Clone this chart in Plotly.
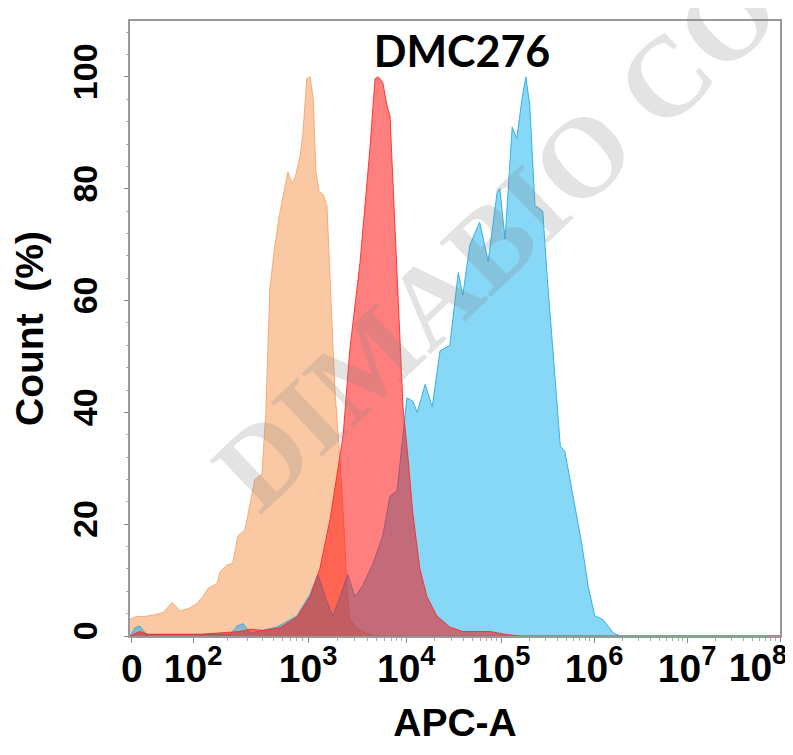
import numpy as np
import plotly.graph_objects as go

# ---------------- data (x in display channels 0..1000, y in % of max) -------------
orange_ch = [0, 11, 23, 38, 51, 65, 77, 92, 103, 112, 120, 134, 138, 149, 158, 166, 177, 185,
             192, 203, 209, 215, 223, 231, 238, 243, 249, 254, 262, 266, 272, 277, 282, 286,
             291, 297, 303, 308, 315, 323, 329, 334, 338, 348, 362, 377, 1000]
orange_pct = [3, 3.5, 3.5, 3.8, 4.2, 6, 4.5, 5, 5.8, 7, 8.5, 9.4, 11.4, 12.7, 13, 17.9, 19, 23.7,
              28, 29, 40, 62, 70, 76, 80, 83, 81, 82, 86, 90, 99.7, 100, 96, 83,
              79.5, 79, 77, 62.7, 44.5, 31.5, 20, 8, 3, 1.5, 0.5, 0, 0]

red_ch = [0, 15, 28, 46, 108, 169, 185, 205, 231, 257, 277, 292, 308, 318, 328, 338, 354, 369,
          377, 382, 389, 395, 400, 405, 412, 420, 428, 435, 446, 457, 472, 492, 512, 531, 554,
          577, 600, 1000]
red_pct = [0, 0.8, 0.3, 0.3, 0.3, 0.8, 1.2, 1, 1.5, 3.4, 7, 12, 21, 28.5, 36, 51, 67, 87,
           99.7, 100, 99, 95, 93, 80, 61, 41, 31.5, 22, 12, 7, 3.6, 1.6, 0.8, 0.8, 0.8,
           0.3, 0, 0]

blue_ch = [0, 8, 15, 25, 154, 165, 174, 185, 226, 257, 277, 289, 300, 312, 323, 335, 346, 358,
           374, 389, 400, 411, 420, 426, 435, 442, 454, 465, 477, 492, 497, 505, 512, 523, 538,
           551, 565, 569, 577, 588, 595, 603, 609, 615, 623, 635, 642, 651, 662, 669, 682, 695,
           705, 715, 728, 743, 754, 1000]
blue_pct = [0, 1.5, 1.8, 0.3, 0.3, 1.8, 2.2, 0.5, 1.6, 3.6, 7.5, 11, 7, 3.6, 7, 11, 7, 9,
            13, 18, 25, 26, 36, 42.6, 42, 40, 45, 41, 51, 52, 57, 65, 61, 70, 74,
            67, 79.5, 80, 71, 91, 89, 96, 100, 95, 77, 76, 64, 51, 34, 33, 25, 16.5,
            8.8, 3.6, 2.9, 0.6, 0, 0]

tick_ch = [3, 97, 274, 425, 571, 714, 857]
tick_text = ["0", "10<sup>2</sup>", "10<sup>3</sup>", "10<sup>4</sup>", "10<sup>5</sup>",
             "10<sup>6</sup>", "10<sup>7</sup>"]
end_tick_ch = [1000]
end_tick_text = ["10<sup>8</sup>"]
y_ticks = [0, 20, 40, 60, 80, 100]

# minor ticks inside each decade (2..9 x 10^n)
major_decades = tick_ch[1:] + end_tick_ch
minor_ch = []
for a, b in zip(major_decades[:-1], major_decades[1:]):
    for k in range(2, 10):
        minor_ch.append(a + np.log10(k) * (b - a))

# the page body adds an 8px offset, so the figure is 8px smaller than the window
W, H = 785, 747
L, T, R, B = 122, 13, 13, 119
PW, PH = W - L - R, H - T - B

fig = go.Figure()
series = [
    ("orange", orange_ch, orange_pct, "rgba(245,135,50,0.45)", "rgba(245,165,110,0.9)"),
    ("blue", blue_ch, blue_pct, "rgba(0,170,235,0.47)", "rgba(40,170,225,0.9)"),
    ("red", red_ch, red_pct, "rgba(255,0,0,0.5)", "rgba(255,40,40,0.9)"),
]
for name, xs, ys, fc, lc in series:
    fig.add_trace(go.Scatter(x=xs, y=ys, mode="lines", fill="tozeroy", fillcolor=fc,
                             line=dict(color=lc, width=1), name=name, showlegend=False))

xtick_font = dict(family="Liberation Sans, Arial", size=39, color="black", weight="bold")
ytick_font = dict(family="Liberation Sans, Arial", size=34, color="black", weight="bold")
title_font = dict(family="Liberation Sans, Arial", size=39, color="black", weight="bold")

fig.update_layout(
    width=W, height=H,
    margin=dict(l=L, r=R, t=T, b=B, autoexpand=False),
    paper_bgcolor="white", plot_bgcolor="white",
    title=dict(text="DMC276", x=454 / W, xref="container", xanchor="center",
               y=1 - 44 / H, yref="container", yanchor="middle",
               font=dict(family="Lato", size=43, color="black", weight="bold")),
    xaxis=dict(range=[0, 1000], tickmode="array", tickvals=tick_ch, ticktext=tick_text,
               tickfont=xtick_font, ticks="outside", ticklen=5, tickcolor="#888",
               ticklabelstandoff=-8,
               showline=True, linecolor="#999", linewidth=1.5, mirror=True,
               showgrid=False, zeroline=False, automargin=False,
               minor=dict(tickmode="array", tickvals=minor_ch, ticks="outside",
                          ticklen=3, tickcolor="#aaa"),
               title=dict(text="APC-A", font=title_font, standoff=20)),
    xaxis2=dict(range=[0, 1000], matches="x", overlaying="x", side="bottom",
                tickmode="array", tickvals=end_tick_ch, ticktext=end_tick_text,
                tickfont=xtick_font, ticks="outside", ticklen=5, tickcolor="#888",
                ticklabelshift=-22, ticklabelstandoff=-8,
                showline=False, showgrid=False, zeroline=False, automargin=False),
    yaxis=dict(range=[0, 110], tickmode="array", tickvals=y_ticks, tickangle=-90,
               tickfont=ytick_font, ticks="outside", ticklen=4, tickcolor="#888",
               ticklabelstandoff=14,
               showline=True, linecolor="#999", linewidth=1.5, mirror=True,
               showgrid=False, zeroline=False, automargin=False,
               minor=dict(dtick=4, ticks="outside", ticklen=2, tickcolor="#aaa"),
               title=dict(text="Count  (%)", font=title_font, standoff=18)),
)

# invisible helper trace so the end-label axis is drawn
fig.add_trace(go.Scatter(x=[1000], y=[0], xaxis="x2", mode="markers",
                         marker=dict(opacity=0), showlegend=False, hoverinfo="skip"))

fig.add_annotation(text="DIMABIO CO", xref="paper", yref="paper",
                   x=(488 - L) / PW, y=(H - B - 230) / PH, xanchor="center", yanchor="middle",
                   textangle=-43.5, showarrow=False,
                   font=dict(family="Liberation Serif, Times New Roman", size=114,
                             weight="bold", color="rgba(128,128,128,0.22)"))

fig.write_html("out.html")
